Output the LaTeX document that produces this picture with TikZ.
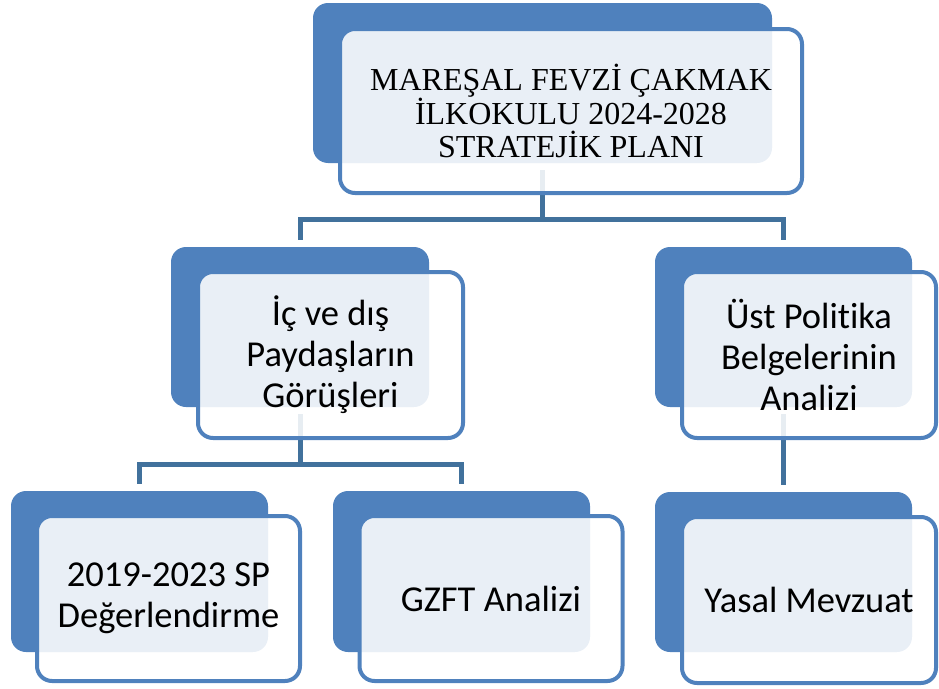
\documentclass[tikz,border=0pt]{standalone}
\usepackage{fontspec}
\setmainfont{Liberation Serif}
\newfontfamily\calib[Ligatures={NoCommon,NoRequired,NoContextual}]{Carlito}
\definecolor{acc}{HTML}{4F81BD}
\definecolor{lnk}{HTML}{41719C}
\pgfdeclarelayer{bg}
\pgfsetlayers{bg,main}
\begin{document}
\begin{tikzpicture}[x=1pt,y=-1pt,
  backbox/.style={fill=acc, rounded corners=15pt, inner sep=0pt, draw=none},
  frontbox/.style={draw=acc, line width=4pt, fill=white, fill opacity=0.88, text opacity=1,
     draw opacity=1, rounded corners=15pt, inner sep=0pt, align=center},
  toptext/.style={font=\fontsize{32}{33}\selectfont},
  boxtext/.style={font=\calib\fontsize{36.5}{41}\selectfont},
  conn/.style={draw=lnk, line width=5pt}]
\useasboundingbox (0,0) rectangle (939,688);
\clip (0,0) rectangle (939,688);
% top
\node[backbox, minimum width=459pt, minimum height=160pt] (tb) at (542.5,83) {};
\node[frontbox, toptext, minimum width=462pt, minimum height=164pt] (tf) at (571,111)
  {MAREŞAL FEVZİ ÇAKMAK\\İLKOKULU 2024-2028\\STRATEJİK PLANI};
% middle left
\node[backbox, minimum width=258pt, minimum height=160pt] (lb) at (300,327) {};
\node[frontbox, boxtext, minimum width=265pt, minimum height=166pt] (lf) at (330.5,355)
  {İç ve dış\\Paydaşların\\Görüşleri};
% middle right
\node[backbox, minimum width=257pt, minimum height=160pt] (rb) at (783.5,327) {};
\node[frontbox, boxtext, minimum width=254pt, minimum height=166pt] (rf) at (809,355)
  {Üst Politika\\Belgelerinin\\Analizi};
% bottom left
\node[backbox, minimum width=257pt, minimum height=161pt] (blb) at (139.5,571.5) {};
\node[frontbox, boxtext, minimum width=263pt, minimum height=165pt] (blf) at (168.5,598.5)
  {2019-2023 SP\\Değerlendirme};
% bottom middle
\node[backbox, minimum width=257pt, minimum height=161pt] (bmb) at (461.5,571.5) {};
\node[frontbox, boxtext, minimum width=263pt, minimum height=165pt] (bmf) at (491,598.5)
  {GZFT Analizi};
% bottom right
\node[backbox, minimum width=257pt, minimum height=160pt] (brb) at (783.5,572) {};
\node[frontbox, boxtext, minimum width=254pt, minimum height=166pt] (brf) at (809,600)
  {Yasal Mevzuat};
\coordinate (bus1) at (0,219);
\coordinate (bus2) at (0,464);
\begin{pgfonlayer}{bg}
  \draw[conn, shorten <=7pt] (tb.south) -- (tb.south |- bus1);
  \draw[conn, shorten <=7pt, shorten >=7pt] (lb.north) -- (lb.north |- bus1) -- (rb.north |- bus1) -- (rb.north);
  \draw[conn, shorten <=7pt] (lb.south) -- (lb.south |- bus2);
  \draw[conn, shorten <=7pt, shorten >=7pt] (blb.north) -- (blb.north |- bus2) -- (bmb.north |- bus2) -- (bmb.north);
  \draw[conn, shorten <=7pt, shorten >=7pt] (rb.south) -- (brb.north);
\end{pgfonlayer}
\end{tikzpicture}
\end{document}
